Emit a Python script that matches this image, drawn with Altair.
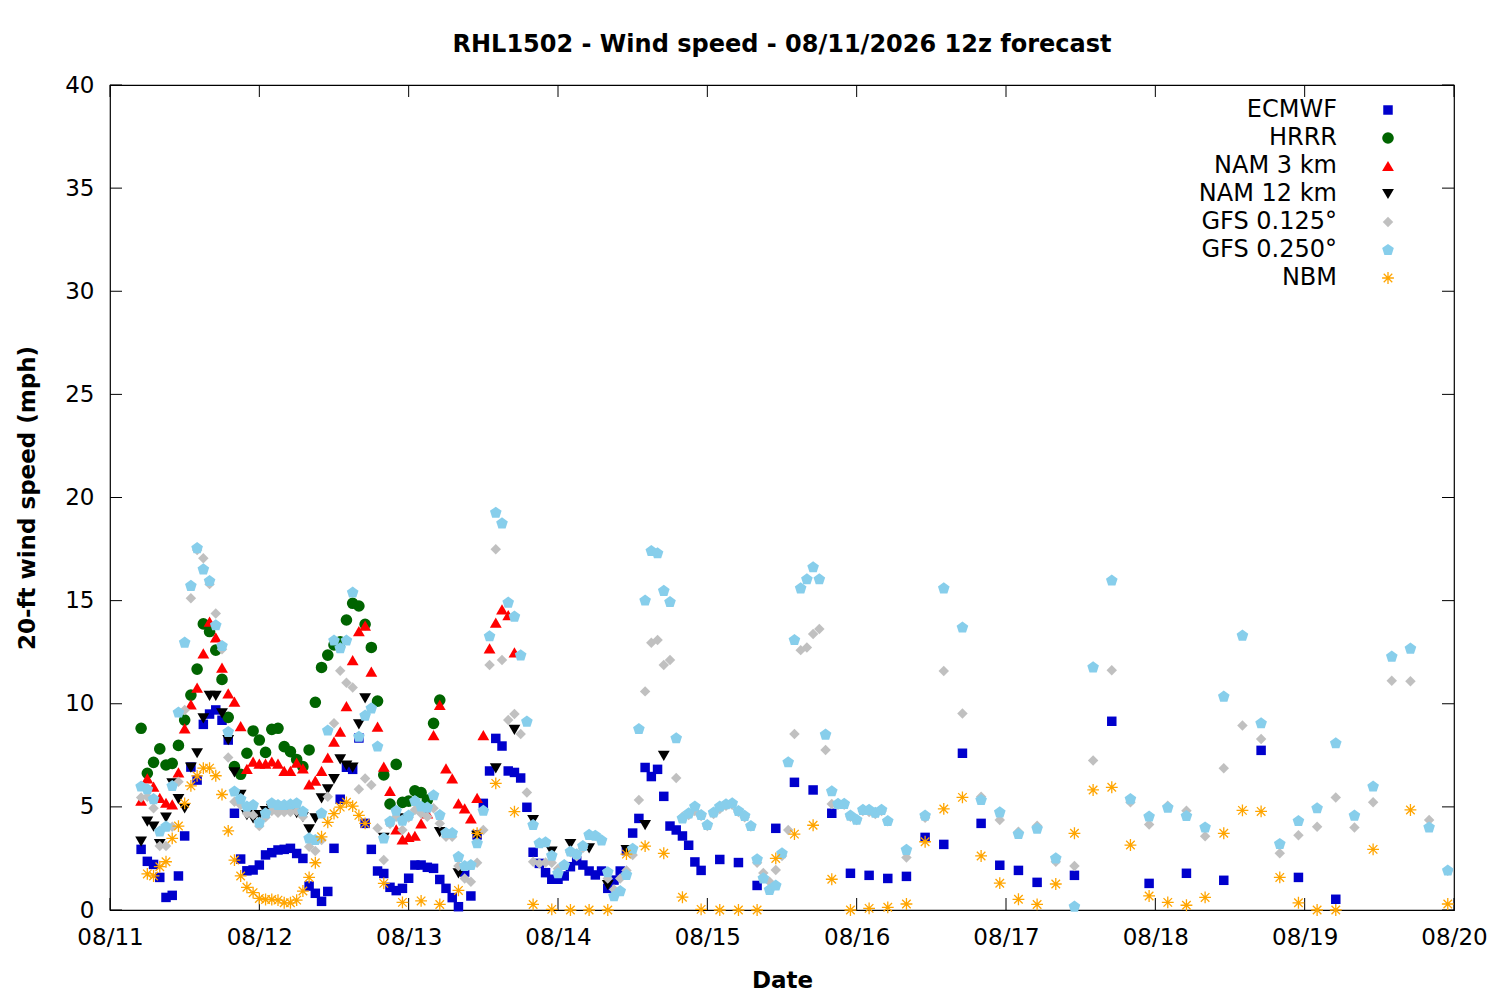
import pandas as pd
import altair as alt

FONT = "DejaVu Sans"

# legend order == drawing order
models = ["ECMWF", "HRRR", "NAM 3 km", "NAM 12 km", "GFS 0.125°", "GFS 0.250°", "NBM"]

# hours counted from 08/11 00:00
ecmwf_hours = list(range(5, 96)) + list(range(98, 150, 3)) + list(range(155, 198, 6))
ecmwf_mph = [
    2.94, 2.36, 2.21, 1.58, 0.61, 0.71, 1.65, 3.59, 6.93, 6.3,
    9.0, 9.5, 9.7, 9.2, 8.24, 4.69, 2.47, 1.9, 1.94, 2.18,
    2.67, 2.78, 2.91, 2.94, 2.99, 2.74, 2.5, 1.16, 0.81, 0.42,
    0.9, 2.99, 5.37, 6.92, 6.82, 8.34, 4.2, 2.94, 1.89, 1.77,
    1.1, 0.94, 1.05, 1.54, 2.18, 2.18, 2.07, 2.02, 1.48, 1.05,
    0.6, 0.16, 1.84, 0.68, 3.64, 5.17, 6.74, 8.32, 7.95, 6.74,
    6.67, 6.4, 4.98, 2.8, 2.26, 1.81, 1.49, 1.49, 1.65, 2.1,
    2.39, 2.18, 1.89, 1.7, 1.89, 1.05, 1.45, 1.89, 2.88, 3.73,
    4.44, 6.91, 6.47, 6.82, 5.51, 4.07, 3.88, 3.59, 3.14, 2.33,
    1.92,
    2.45, 2.3, 1.19, 3.96, 6.19, 5.82, 4.69, 1.78, 1.68, 1.53,
    1.63, 3.52, 3.18, 7.6, 4.2, 2.17, 1.92, 1.34,
    1.68, 9.15, 1.29, 1.78, 1.44, 7.74, 1.58, 0.52,
]

hrrr_hours = list(range(5, 54))
hrrr_mph = [
    8.81, 6.63, 7.16, 7.81, 7.03, 7.11, 7.98, 9.21, 10.42, 11.68,
    13.87, 13.5, 12.6, 11.18, 9.34, 6.95, 6.58, 7.6, 8.68, 8.24,
    7.64, 8.76, 8.81, 7.92, 7.68, 7.3, 6.95, 7.76, 10.07, 11.76,
    12.36, 12.85, 13.0, 14.06, 14.87, 14.74, 13.85, 12.73, 10.13, 6.55,
    5.14, 7.06, 5.22, 5.28, 5.78, 5.69, 5.33, 9.05, 10.18,
]

nam3_hours = list(range(5, 66))
nam3_mph = [
    5.3, 6.38, 5.98, 5.44, 5.2, 5.12, 6.67, 8.81, 9.97, 10.78,
    12.44, 13.98, 13.22, 11.75, 10.5, 10.1, 8.92, 6.84, 7.19, 7.1,
    7.1, 7.2, 7.1, 6.75, 6.75, 7.14, 6.87, 6.09, 6.27, 6.74,
    7.39, 8.16, 8.65, 9.89, 12.12, 13.52, 13.79, 11.56, 8.89, 6.95,
    5.78, 3.91, 3.43, 3.55, 3.6, 4.2, 4.68, 8.48, 9.94, 6.87,
    6.38, 5.17, 4.93, 4.44, 5.44, 8.48, 12.68, 13.93, 14.58, 14.3,
    12.49,
]

nam12_hours = list(range(5, 42)) + list(range(44, 90, 3))
nam12_mph = [
    3.31, 4.28, 4.04, 3.2, 4.48, 6.14, 5.37, 4.93, 6.9, 7.6,
    9.29, 10.38, 10.38, 9.53, 8.24, 6.67, 5.58, 4.6, 4.44, 4.6,
    4.8, 4.9, 4.9, 4.8, 4.81, 4.7, 4.5, 3.91, 4.44, 5.41,
    5.85, 6.34, 7.3, 7.0, 6.9, 9.0, 10.26,
    3.5, 4.44, 4.9, 3.77, 1.78, 3.6, 6.87, 8.73, 4.36, 2.83,
    3.2, 2.99, 1.21, 2.9, 4.12, 7.47,
]

gfs_hours = list(range(5, 126)) + list(range(128, 216, 3))
gfs125_mph = [
    5.46, 5.49, 4.93, 3.1, 3.1, 4.04, 6.22, 9.7, 15.11, 17.45,
    17.05, 15.8, 14.38, 12.64, 7.39, 5.25, 5.09, 4.68, 4.6, 4.07,
    4.5, 4.8, 4.71, 4.75, 4.75, 4.8, 4.52, 3.07, 2.86, 3.39,
    5.49, 9.05, 11.6, 11.02, 10.79, 5.85, 6.38, 6.06, 3.96, 2.42,
    4.17, 4.52, 3.88, 4.49, 4.85, 4.68, 4.52, 4.93, 4.2, 3.55,
    3.55, 2.13, 1.53, 1.37, 2.29, 3.88, 11.88, 17.49, 12.12, 9.21,
    9.5, 8.53, 5.7, 2.34, 2.26, 2.3, 2.29, 2.0, 2.2, 2.8,
    2.6, 3.0, 3.64, 3.6, 3.4, 1.53, 1.0, 1.53, 1.92, 2.67,
    5.33, 10.6, 12.96, 13.09, 11.88, 12.12, 6.4, 4.52, 4.6, 4.8,
    4.56, 4.07, 4.65, 4.9, 5.05, 5.1, 4.75, 4.5, 4.05, 2.29,
    1.8, 1.37, 1.94, 2.62, 3.88, 8.53, 12.6, 12.73, 13.38, 13.62,
    7.76, 5.14, 5.1, 5.1, 4.52, 4.36, 4.8, 4.75, 4.65, 4.8,
    4.3,
    2.55, 4.47, 11.59, 9.53, 5.49, 4.36, 3.8, 4.08, 2.34, 2.13,
    7.25, 11.62, 5.22, 4.15, 5.05, 4.81, 3.57, 6.87, 8.95, 8.29,
    2.75, 3.62, 4.04, 5.46, 4.0, 5.22, 11.12, 11.09, 4.36, 1.9,
]
gfs250_mph = [
    5.98, 5.85, 5.37, 3.8, 4.04, 6.01, 9.57, 12.96, 15.71, 17.54,
    16.51, 15.95, 13.8, 12.8, 8.63, 5.74, 5.37, 5.01, 5.09, 4.23,
    4.68, 5.17, 5.09, 5.09, 5.12, 5.17, 4.77, 3.47, 3.39, 4.68,
    8.7, 13.06, 12.69, 13.06, 15.39, 8.4, 9.42, 9.77, 7.92, 3.47,
    4.28, 4.81, 4.33, 4.57, 5.28, 5.01, 4.96, 5.56, 4.6, 3.73,
    3.73, 2.57, 2.13, 2.18, 3.23, 4.81, 13.27, 19.26, 18.74, 14.9,
    14.22, 12.34, 9.13, 4.12, 3.23, 3.28, 2.63, 1.78, 2.18, 2.83,
    2.7, 3.1, 3.64, 3.6, 3.37, 1.83, 0.66, 0.91, 1.7, 2.96,
    8.77, 15.0, 17.4, 17.29, 15.47, 14.93, 8.32, 4.44, 4.68, 5.01,
    4.6, 4.12, 4.72, 5.01, 5.12, 5.17, 4.8, 4.56, 4.07, 2.45,
    1.53, 0.97, 1.18, 2.75, 7.16, 13.09, 15.59, 16.03, 16.61, 16.03,
    8.5, 5.75, 5.14, 5.14, 4.57, 4.37, 4.85, 4.85, 4.71, 4.85,
    4.31,
    2.91, 4.57, 15.59, 13.69, 5.33, 4.73, 3.68, 3.94, 2.5, 0.16,
    11.76, 15.97, 5.37, 4.53, 4.96, 4.55, 4.0, 10.34, 13.3, 9.05,
    3.2, 4.31, 4.93, 8.08, 4.57, 5.98, 12.28, 12.67, 4.0, 1.91,
]

nbm_hours = list(range(6, 42)) + list(range(44, 198, 3)) + list(range(203, 216, 6))
nbm_mph = [
    1.75, 1.65, 2.1, 2.34, 3.47, 4.07, 5.17, 6.02, 6.5, 6.88,
    6.88, 6.51, 5.6, 3.84, 2.42, 1.65, 1.1, 0.84, 0.56, 0.51,
    0.51, 0.48, 0.35, 0.35, 0.48, 0.92, 1.58, 2.29, 3.55, 4.25,
    4.67, 4.99, 5.22, 5.04, 4.59, 4.2,
    1.29, 0.37, 0.44, 0.27, 0.95, 3.72, 6.14, 4.77, 0.27, 0.03,
    0.0, 0.0, 0.0, 2.71, 3.1, 2.75, 0.62, 0.03, 0.0, 0.0,
    0.0, 2.5, 3.68, 4.11, 1.49, 0.0, 0.08, 0.13, 0.29, 3.31,
    4.9, 5.46, 2.62, 1.3, 0.52, 0.27, 1.26, 3.72, 5.82, 5.95,
    3.15, 0.68, 0.37, 0.23, 0.61, 3.72, 4.83, 4.78, 1.58, 0.35,
    0.0, 0.0,
    2.94, 4.85, 0.29,
]

x_ticks = [0, 24, 48, 72, 96, 120, 144, 168, 192, 216]
y_ticks = [0, 5, 10, 15, 20, 25, 30, 35, 40]

W, H = 1344, 825
PENTAGON = "M0,-1L0.951,-0.309L0.588,0.809L-0.588,0.809L-0.951,-0.309Z"
ASTERISK = "M-1,0L1,0M0,-1L0,1M-0.72,-0.72L0.72,0.72M-0.72,0.72L0.72,-0.72"

styles = {
    "ECMWF": dict(shape="square", color="#0000cc", size=90, filled=True),
    "HRRR": dict(shape="circle", color="#006400", size=135, filled=True),
    "NAM 3 km": dict(shape="triangle-up", color="#ff0000", size=140, filled=True),
    "NAM 12 km": dict(shape="triangle-down", color="#000000", size=140, filled=True),
    "GFS 0.125°": dict(shape="diamond", color="#c0c0c0", size=110, filled=True),
    "GFS 0.250°": dict(shape=PENTAGON, color="#87ceeb", size=150, filled=True),
    "NBM": dict(shape=ASTERISK, color="#ffa500", size=140, filled=False),
}

series = {
    "ECMWF": (ecmwf_hours, ecmwf_mph),
    "HRRR": (hrrr_hours, hrrr_mph),
    "NAM 3 km": (nam3_hours, nam3_mph),
    "NAM 12 km": (nam12_hours, nam12_mph),
    "GFS 0.125°": (gfs_hours, gfs125_mph),
    "GFS 0.250°": (gfs_hours, gfs250_mph),
    "NBM": (nbm_hours, nbm_mph),
}

x_scale = alt.Scale(domain=[0, 216], nice=False, zero=False)
y_scale = alt.Scale(domain=[0, 40], nice=False)

x_axis = alt.Axis(values=x_ticks, labelExpr="'08/' + (11 + datum.value / 24)",
                  title="Date", grid=False, domain=False, ticks=False, tickSize=0,
                  labelPadding=16, titlePadding=20, labelFlush=False, labelOverlap=False)
y_axis = alt.Axis(values=y_ticks, title="20-ft wind speed (mph)", grid=False,
                  domain=False, ticks=False, tickSize=0, labelPadding=16,
                  titlePadding=25, labelFlush=False, labelOverlap=False)

xt = pd.DataFrame({"h": x_ticks})
yt = pd.DataFrame({"v": y_ticks})

# gnuplot style inward ticks, mirrored on all four sides
tick_layers = [
    alt.Chart(yt).mark_rule(color="black").encode(
        x=alt.value(0), x2=alt.value(12), y=alt.Y("v:Q", scale=y_scale, axis=y_axis)),
    alt.Chart(yt).mark_rule(color="black").encode(
        x=alt.value(W - 12), x2=alt.value(W), y=alt.Y("v:Q", scale=y_scale, axis=y_axis)),
    alt.Chart(xt).mark_rule(color="black").encode(
        x=alt.X("h:Q", scale=x_scale, axis=x_axis), y=alt.value(H - 12), y2=alt.value(H)),
    alt.Chart(xt).mark_rule(color="black").encode(
        x=alt.X("h:Q", scale=x_scale, axis=x_axis), y=alt.value(0), y2=alt.value(12)),
]

point_layers = []
for name in models:
    hours, mph = series[name]
    st = styles[name]
    df = pd.DataFrame({"hour": hours, "mph": mph})
    point_layers.append(
        alt.Chart(df).mark_point(shape=st["shape"], size=st["size"], filled=st["filled"],
                                 color=st["color"], opacity=1, strokeWidth=1.3).encode(
            x=alt.X("hour:Q", scale=x_scale, axis=x_axis),
            y=alt.Y("mph:Q", scale=y_scale, axis=y_axis),
        )
    )

# key in the top right corner, labels left of the symbols as gnuplot does
leg_df = pd.DataFrame({"name": models})
leg_scale = alt.Scale(type="point", domain=models, range=[25, 193], padding=0)
legend_layers = [
    alt.Chart(leg_df).mark_text(align="right", baseline="middle", font=FONT,
                                fontSize=24, color="black").encode(
        x=alt.value(1227), y=alt.Y("name:N", scale=leg_scale, axis=None), text="name:N")
]
for name in models:
    st = styles[name]
    legend_layers.append(
        alt.Chart(pd.DataFrame({"name": [name]})).mark_point(
            shape=st["shape"], size=st["size"], filled=st["filled"], color=st["color"],
            opacity=1, strokeWidth=1.3).encode(
            x=alt.value(1278), y=alt.Y("name:N", scale=leg_scale, axis=None))
    )

main = alt.layer(*tick_layers, *point_layers)
key = alt.layer(*legend_layers)

chart = alt.layer(main, key).resolve_scale(y="independent").properties(
    width=W, height=H,
    autosize="none",
    padding={"left": 102, "top": 77, "right": 38, "bottom": 82},
    title=alt.TitleParams("RHL1502 - Wind speed - 08/11/2026 12z forecast",
                          font=FONT, fontSize=24, fontWeight="bold", offset=17,
                          anchor="middle", color="black"),
).configure_view(stroke="black", strokeWidth=1.2).configure_axis(
    labelFont=FONT, labelFontSize=23, labelColor="black",
    titleFont=FONT, titleFontSize=23, titleFontWeight="bold", titleColor="black",
)

chart.save("out.html", embed_options={"renderer": "svg", "actions": False})
